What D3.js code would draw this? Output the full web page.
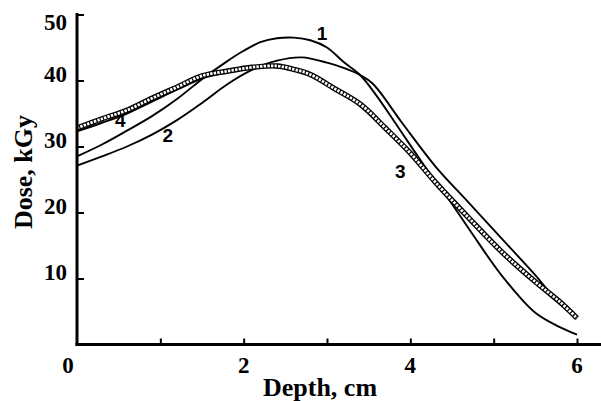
<!DOCTYPE html>
<html lang="en">
<head>
    <meta charset="UTF-8">
    <title>Dose vs Depth</title>
    <script src="https://d3js.org/d3.v7.min.js"></script>
    <style>
        body { margin: 0; background: #fff; }
        .curve { fill: none; stroke: #000; stroke-width: 1.9; }
        .tick-label { font-family: "Liberation Serif", "Times New Roman", serif; font-weight: bold; font-size: 23px; fill: #000; }
        .title { font-family: "Liberation Serif", "Times New Roman", serif; font-weight: bold; font-size: 26px; fill: #000; }
        .curve-label { font-family: "Liberation Sans", Arial, sans-serif; font-weight: bold; font-size: 19px; fill: #000; text-anchor: middle; }
    </style>
</head>
<body>
    <div id="chart"></div>
    <script>
        const width = 601, height = 401;

        // data: [depth cm, dose kGy]
        const curve1 = [[0,28.5],[0.3,30.3],[0.6,32.4],[0.9,34.6],[1.2,37.2],[1.5,40.2],[1.8,42.9],[2.0,44.5],[2.2,45.8],[2.4,46.4],[2.6,46.5],[2.8,46.1],[3.0,45.0],[3.2,42.8],[3.4,40.8],[3.6,37.6],[3.85,33.0],[4.2,26.5],[4.45,22.2],[4.72,17.2],[5.1,10.4],[5.5,4.8],[5.8,2.6],[6.0,1.5]];
        const curve2 = [[0,27.1],[0.3,28.5],[0.6,30.0],[0.9,31.8],[1.2,34.0],[1.5,36.6],[1.8,39.4],[2.1,41.6],[2.4,43.0],[2.7,43.5],[3.0,42.7],[3.2,41.9],[3.4,40.8],[3.55,39.5],[3.9,33.6],[4.3,27.0],[4.7,21.5],[5.1,16.0],[5.5,10.5],[5.7,7.5],[6.0,4.0]];
        const curve3 = [[0,32.8],[0.3,34.2],[0.6,35.5],[0.9,37.3],[1.2,39.0],[1.5,40.7],[1.8,41.4],[2.1,42.0],[2.4,42.2],[2.6,41.7],[2.8,40.9],[3.1,38.7],[3.4,36.4],[3.7,32.8],[4.0,29.0],[4.3,24.6],[4.7,19.2],[5.1,14.0],[5.5,9.5],[5.8,6.4],[6.0,4.0]];
        const curve4 = [[0,32.3],[0.3,33.6],[0.6,35.0],[0.9,36.8],[1.2,38.6],[1.5,40.3],[1.8,41.2],[2.1,41.8],[2.4,42.0],[2.8,40.7],[3.1,38.5],[3.4,36.2],[3.7,32.6],[4.0,28.8],[4.3,24.4],[4.7,19.0],[5.1,13.8],[5.5,9.3],[6.0,3.9]];

        const xTicks = [1, 2, 3, 4, 5, 6];
        const xTickLabels = [0, 2, 4, 6];
        const yTicks = [10, 20, 30, 40, 50];

        // curve number labels, anchored in data coordinates
        const curveLabels = [
            { text: "1", d: 2.94, v: 46.1 },
            { text: "2", d: 1.09, v: 30.7 },
            { text: "3", d: 3.88, v: 25.2 },
            { text: "4", d: 0.52, v: 32.9 }
        ];

        const x = d3.scaleLinear().domain([0, 6]).range([77, 577]);
        const y = d3.scaleLinear().domain([0, 50]).range([344.5, 14.5]);

        const svg = d3.select("#chart")
            .append("svg")
            .attr("width", width)
            .attr("height", height);

        const line = d3.line()
            .x(d => x(d[0]))
            .y(d => y(d[1]))
            .curve(d3.curveCatmullRom.alpha(0.5));

        // solid curves
        [curve4, curve2, curve1].forEach(c => {
            svg.append("path").datum(c).attr("class", "curve").attr("d", line);
        });

        // curve 3: chain of small open circles
        svg.append("path").datum(curve3)
            .attr("fill", "none").attr("stroke", "#000").attr("stroke-width", 5.4)
            .attr("d", line);
        svg.append("path").datum(curve3)
            .attr("fill", "none").attr("stroke", "#fff").attr("stroke-width", 2.8)
            .attr("stroke-dasharray", "2.4,1.2")
            .attr("d", line);

        // axes
        svg.append("g")
            .attr("transform", `translate(${x(0)},0)`)
            .call(d3.axisRight(y).tickValues(yTicks).tickSize(7).tickSizeOuter(0).tickFormat(""))
            .call(g => g.select(".domain").remove())
            .call(g => g.selectAll(".tick line").attr("stroke-width", 2));

        svg.append("g")
            .attr("transform", `translate(0,${y(0)})`)
            .call(d3.axisTop(x).tickValues(xTicks).tickSize(6).tickSizeOuter(0).tickFormat(""))
            .call(g => g.select(".domain").remove())
            .call(g => g.selectAll(".tick line").attr("stroke-width", 2));

        svg.append("line")
            .attr("x1", x(0)).attr("x2", x(0))
            .attr("y1", y(50) - 1.5).attr("y2", y(0) + 1.5)
            .attr("stroke", "#000").attr("stroke-width", 3);
        svg.append("line")
            .attr("x1", x(0) - 1.5).attr("x2", width)
            .attr("y1", y(0)).attr("y2", y(0))
            .attr("stroke", "#000").attr("stroke-width", 3);

        // tick labels
        svg.selectAll(".ylab").data(yTicks).enter().append("text")
            .attr("class", "tick-label")
            .attr("text-anchor", "end")
            .attr("x", x(0) - 10)
            .attr("y", d => d === 50 ? y(d) + 15 : y(d) + 1)
            .text(d => d);

        svg.selectAll(".xlab").data(xTickLabels).enter().append("text")
            .attr("class", "tick-label")
            .attr("text-anchor", "middle")
            .attr("x", d => d === 0 ? x(d) - 9 : x(d))
            .attr("y", y(0) + 28)
            .text(d => d);

        // axis titles
        svg.append("text")
            .attr("class", "title")
            .attr("text-anchor", "middle")
            .attr("x", 320)
            .attr("y", 396)
            .text("Depth, cm");

        svg.append("text")
            .attr("class", "title")
            .attr("text-anchor", "middle")
            .attr("transform", "translate(32,172) rotate(-90)")
            .text("Dose, kGy");

        // curve numbers
        svg.selectAll(".clab").data(curveLabels).enter().append("text")
            .attr("class", "curve-label")
            .attr("x", d => x(d.d))
            .attr("y", d => y(d.v))
            .text(d => d.text);
    </script>
</body>
</html>
